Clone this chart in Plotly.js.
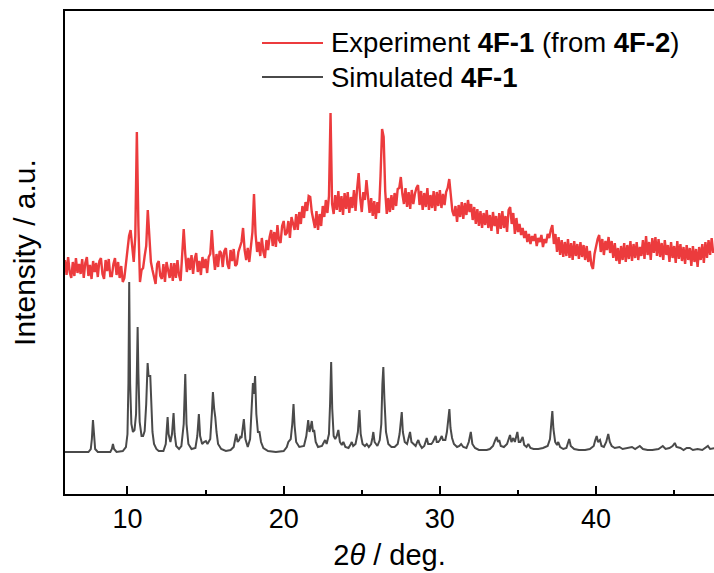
<!DOCTYPE html>
<html>
<head>
<meta charset="utf-8">
<script src="https://cdn.plot.ly/plotly-3.0.1.min.js"></script>
<style>html,body{margin:0;padding:0;background:#fff;}#chart{width:714px;height:573px;}</style>
</head>
<body>
<div id="chart"></div>
<script>
// ---- Data ----
// Experimental pattern: 2theta (deg) and intensity (a.u.)
const expX = [
6.0,6.1,6.2,6.3,6.4,6.5,6.6,6.7,6.8,6.9,
7.0,7.1,7.2,7.3,7.4,7.5,7.6,7.7,7.8,7.9,
8.0,8.1,8.2,8.3,8.4,8.5,8.6,8.7,8.8,8.9,
9.0,9.1,9.2,9.3,9.4,9.5,9.6,9.7,9.8,9.9,
10.0,10.1,10.2,10.3,10.4,10.5,10.6,10.7,10.8,10.9,
11.0,11.1,11.2,11.3,11.4,11.5,11.6,11.7,11.8,11.9,
12.0,12.1,12.2,12.3,12.4,12.5,12.6,12.7,12.8,12.9,
13.0,13.1,13.2,13.3,13.4,13.5,13.6,13.7,13.8,13.9,
14.0,14.1,14.2,14.3,14.4,14.5,14.6,14.7,14.8,14.9,
15.0,15.1,15.2,15.3,15.4,15.5,15.6,15.7,15.8,15.9,
16.0,16.1,16.2,16.3,16.4,16.5,16.6,16.7,16.8,16.9,
17.0,17.1,17.2,17.3,17.4,17.5,17.6,17.7,17.8,17.9,
18.0,18.1,18.2,18.3,18.4,18.5,18.6,18.7,18.8,18.9,
19.0,19.1,19.2,19.3,19.4,19.5,19.6,19.7,19.8,19.9,
20.0,20.1,20.2,20.3,20.4,20.5,20.6,20.7,20.8,20.9,
21.0,21.1,21.2,21.3,21.4,21.5,21.6,21.7,21.8,21.9,
22.0,22.1,22.2,22.3,22.4,22.5,22.6,22.7,22.8,22.9,
23.0,23.1,23.2,23.3,23.4,23.5,23.6,23.7,23.8,23.9,
24.0,24.1,24.2,24.3,24.4,24.5,24.6,24.7,24.8,24.9,
25.0,25.1,25.2,25.3,25.4,25.5,25.6,25.7,25.8,25.9,
26.0,26.1,26.2,26.3,26.4,26.5,26.6,26.7,26.8,26.9,
27.0,27.1,27.2,27.3,27.4,27.5,27.6,27.7,27.8,27.9,
28.0,28.1,28.2,28.3,28.4,28.5,28.6,28.7,28.8,28.9,
29.0,29.1,29.2,29.3,29.4,29.5,29.6,29.7,29.8,29.9,
30.0,30.1,30.2,30.3,30.4,30.5,30.6,30.7,30.8,30.9,
31.0,31.1,31.2,31.3,31.4,31.5,31.6,31.7,31.8,31.9,
32.0,32.1,32.2,32.3,32.4,32.5,32.6,32.7,32.8,32.9,
33.0,33.1,33.2,33.3,33.4,33.5,33.6,33.7,33.8,33.9,
34.0,34.1,34.2,34.3,34.4,34.5,34.6,34.7,34.8,34.9,
35.0,35.1,35.2,35.3,35.4,35.5,35.6,35.7,35.8,35.9,
36.0,36.1,36.2,36.3,36.4,36.5,36.6,36.7,36.8,36.9,
37.0,37.1,37.2,37.3,37.4,37.5,37.6,37.7,37.8,37.9,
38.0,38.1,38.2,38.3,38.4,38.5,38.6,38.7,38.8,38.9,
39.0,39.1,39.2,39.3,39.4,39.5,39.6,39.7,39.8,39.9,
40.0,40.1,40.2,40.3,40.4,40.5,40.6,40.7,40.8,40.9,
41.0,41.1,41.2,41.3,41.4,41.5,41.6,41.7,41.8,41.9,
42.0,42.1,42.2,42.3,42.4,42.5,42.6,42.7,42.8,42.9,
43.0,43.1,43.2,43.3,43.4,43.5,43.6,43.7,43.8,43.9,
44.0,44.1,44.2,44.3,44.4,44.5,44.6,44.7,44.8,44.9,
45.0,45.1,45.2,45.3,45.4,45.5,45.6,45.7,45.8,45.9,
46.0,46.1,46.2,46.3,46.4,46.5,46.6,46.7,46.8,46.9,
47.0,47.1,47.2,47.3,47.4,47.5
];
const expY = [
234,219,237,222,216,232,218,236,221,230,
220,235,216,231,237,218,229,215,233,222,
231,217,233,236,220,215,234,223,235,218,
218,230,236,219,232,216,228,212,216,232,
242,258,264,246,232,258,362,268,212,224,
226,238,248,284,252,232,224,216,210,230,
233,218,215,230,212,232,223,216,231,213,
231,216,234,219,213,236,265,240,222,236,
224,239,220,235,241,222,233,219,237,226,
235,221,237,240,264,240,224,240,227,243,
241,227,243,246,230,225,244,233,245,228,
230,242,248,252,266,244,234,246,232,250,
262,300,260,242,252,238,256,242,236,254,
244,257,264,248,262,247,269,254,251,268,
273,259,261,273,256,277,270,264,280,264,
282,270,288,276,292,283,298,297,282,274,
266,283,264,280,268,288,277,294,281,298,
381,290,280,299,284,303,282,298,279,301,
285,302,281,297,286,304,283,305,321,296,
282,302,294,314,295,281,296,278,293,275,
292,281,318,365,357,303,280,296,282,299,
284,301,288,305,306,317,300,290,306,287,
302,285,304,290,300,306,309,289,303,284,
301,287,306,284,299,286,303,283,302,288,
304,286,300,289,302,306,315,301,283,278,
288,272,289,277,292,275,291,279,294,282,
290,274,287,270,285,268,283,266,281,269,
284,266,279,263,282,268,278,260,281,265,
283,266,278,262,284,287,270,281,260,276,
262,270,259,266,256,263,252,260,250,258,
253,260,248,256,252,259,247,255,251,260,
256,264,269,250,260,242,257,239,254,237,
252,238,255,236,251,234,253,238,250,235,
252,237,249,234,248,232,243,229,225,240,
249,255,259,242,255,239,253,244,257,241,
253,236,251,233,246,230,248,234,251,232,
249,235,253,233,250,236,252,234,247,238,
254,235,258,239,252,234,256,241,257,238,
255,237,251,234,254,239,249,232,252,236,
248,231,253,235,250,233,247,230,249,234,
246,228,248,232,245,227,247,234,250,231,
252,236,254,239,256,241
];

// Simulated pattern: 2theta (deg) and intensity (a.u.)
const simX = [
6.0,7.5,7.65,7.72,7.79,7.86,7.93,8.1,8.9,9.0,9.07,9.14,9.3,9.7,9.9,
10.0,10.06,10.11,10.17,10.25,10.35,10.45,10.55,10.61,10.65,10.70,10.78,10.9,
11.0,11.1,11.2,11.29,11.35,11.46,11.52,11.6,11.7,11.85,
12.0,12.3,12.45,12.52,12.57,12.63,12.75,12.85,12.95,
13.02,13.12,13.3,13.45,13.6,13.70,13.78,13.9,
14.1,14.35,14.47,14.57,14.65,14.78,14.9,
15.02,15.12,15.3,15.40,15.47,15.55,15.62,15.70,15.8,
16.0,16.3,16.6,16.8,16.96,
17.05,17.15,17.22,17.30,17.45,17.55,17.7,17.85,17.95,
18.03,18.10,18.17,18.25,18.35,18.45,18.55,18.7,
19.0,19.5,20.0,20.2,20.3,20.45,20.55,20.63,20.70,20.8,
21.0,21.3,21.45,21.57,21.65,21.72,21.80,21.88,21.95,
22.05,22.2,22.45,22.55,22.65,22.75,22.9,22.97,
23.04,23.11,23.2,23.3,23.4,23.5,23.6,23.72,23.82,23.95,
24.15,24.3,24.36,24.45,24.6,24.75,24.85,24.93,
25.05,25.2,25.32,25.45,25.6,25.68,25.74,25.82,
26.0,26.15,26.25,26.32,26.38,26.45,26.55,26.7,26.9,
27.1,27.3,27.42,27.50,27.56,27.63,27.75,27.9,
28.0,28.09,28.18,28.3,28.45,28.55,28.62,28.7,28.85,
29.0,29.1,29.16,29.25,29.45,29.55,29.65,29.73,29.80,29.9,
30.0,30.12,30.2,30.35,30.45,30.55,30.61,30.68,30.78,30.9,
31.1,31.25,31.36,31.5,31.7,31.85,31.98,
32.08,32.25,32.5,32.8,33.0,33.2,33.4,33.55,33.64,33.72,33.8,33.9,
34.1,34.3,34.40,34.49,34.58,34.7,34.80,34.88,34.96,
35.05,35.15,35.3,35.4,35.55,35.66,35.8,
36.0,36.3,36.6,36.9,37.05,37.13,37.2,37.27,37.38,37.5,37.58,37.7,37.9,
38.1,38.2,38.28,38.38,38.6,38.9,39.3,39.6,39.85,39.95,
40.04,40.12,40.25,40.35,40.5,40.65,40.78,40.88,
41.0,41.2,41.5,41.7,42.0,42.3,42.5,42.8,43.0,43.3,43.6,
44.0,44.27,44.45,44.7,44.9,45.04,45.15,45.4,45.6,45.8,
46.0,46.2,46.5,46.8,47.0,47.16,47.3,47.6
];
const simY = [
42,42,45,55,74,55,45,42,42,45,50,45,42,43,47,
60,110,212,110,70,62,64,80,130,167,120,72,58,
58,63,90,131,118,118,90,62,50,45,
43,43,50,62,77,60,52,60,81,
60,48,45,48,70,120,70,50,
45,46,58,80,58,50,52,
53,50,55,80,102,85,77,62,50,
45,43,44,47,60,
52,54,57,56,75,55,47,55,80,
111,100,118,80,62,62,52,46,
43,42,43,47,52,55,70,90,68,52,
47,48,58,74,62,66,73,62,64,
52,47,48,52,54,50,60,90,
132,85,58,55,58,64,52,49,52,47,
46,50,52,48,50,62,84,60,
50,48,50,47,50,56,62,52,
48,54,70,110,127,95,62,50,47,
47,50,60,75,82,62,52,50,
55,62,52,50,48,52,54,50,46,
48,54,56,50,50,52,56,58,52,52,
54,58,54,54,62,75,85,66,56,50,
47,48,50,47,46,52,62,
50,46,44,44,44,45,48,54,57,52,54,48,
47,50,55,59,52,56,52,56,62,
52,52,57,49,47,50,46,
45,45,46,48,55,70,83,65,52,49,52,47,45,
46,50,55,48,45,44,44,45,48,54,
58,52,54,48,47,52,60,52,
48,46,47,45,46,47,45,48,45,44,44,
45,48,45,46,48,51,47,46,44,46,
46,44,45,44,46,48,45,46
];

// Axis tick labels
const tickVals = [10, 20, 30, 40];
const tickText = ['10', '20', '30', '40'];
const minorVals = [15, 25, 35, 45];

// Series labels
const expName = 'Experiment <b>4F-1</b> (from <b>4F-2</b>)';
const simName = 'Simulated <b>4F-1</b>';

// ---- Layout helpers ----
const W = 714, H = 573;
const M = {l: 65, r: 0, t: 11, b: 79};
const pw = W - M.l - M.r, ph = H - M.t - M.b;
const fx = p => (p - M.l) / pw;          // pixel x -> paper
const fy = p => (H - M.b - p) / ph;      // pixel y -> paper

const RED = '#ec3b3d';
const GRAY = '#4a4a4a';
const FONT = 'Liberation Sans, Arial, Helvetica, sans-serif';

const traces = [
  {x: expX, y: expY, type: 'scatter', mode: 'lines', name: expName,
   line: {color: RED, width: 2.4}, showlegend: false, hoverinfo: 'x+y'},
  {x: simX, y: simY, type: 'scatter', mode: 'lines', name: simName,
   line: {color: GRAY, width: 2}, showlegend: false, hoverinfo: 'x+y'}
];

const layout = {
  width: W, height: H,
  margin: {l: M.l, r: M.r, t: M.t, b: M.b, pad: 0},
  paper_bgcolor: '#fff', plot_bgcolor: '#fff',
  font: {family: FONT, color: '#000'},
  showlegend: false,
  xaxis: {
    range: [6.0, 47.55],
    showline: true, linewidth: 2, linecolor: '#000', mirror: true,
    showgrid: false, zeroline: false,
    tickmode: 'array', tickvals: tickVals, ticktext: tickText,
    ticks: 'inside', ticklen: 8, tickwidth: 2, tickcolor: '#000',
    minor: {tickmode: 'array', tickvals: minorVals, ticks: 'inside', ticklen: 4, tickwidth: 2, tickcolor: '#000', showgrid: false},
    tickfont: {size: 27, family: FONT, color: '#000'},
    title: {text: '2<i>θ</i> / deg.', font: {size: 29, family: FONT, color: '#000'}, standoff: 11}
  },
  yaxis: {
    range: [0, 483],
    showline: true, linewidth: 2, linecolor: '#000', mirror: false,
    showgrid: false, zeroline: false,
    showticklabels: false, ticks: '',
    title: {text: 'Intensity / a.u.', font: {size: 30, family: FONT, color: '#000'}, standoff: 19}
  },
  shapes: [
    {type: 'line', xref: 'paper', yref: 'paper', x0: fx(262), x1: fx(323), y0: fy(43), y1: fy(43), line: {color: RED, width: 2}},
    {type: 'line', xref: 'paper', yref: 'paper', x0: fx(262), x1: fx(323), y0: fy(77), y1: fy(77), line: {color: GRAY, width: 2}}
  ],
  annotations: [
    {xref: 'paper', yref: 'paper', x: fx(329), y: fy(43), xanchor: 'left', yanchor: 'middle', showarrow: false,
     text: expName, font: {size: 27.5, family: FONT, color: '#000'}},
    {xref: 'paper', yref: 'paper', x: fx(329), y: fy(77), xanchor: 'left', yanchor: 'middle', showarrow: false,
     text: simName, font: {size: 27.5, family: FONT, color: '#000'}}
  ]
};

Plotly.newPlot('chart', traces, layout, {displayModeBar: false, staticPlot: true});
</script>
</body>
</html>
